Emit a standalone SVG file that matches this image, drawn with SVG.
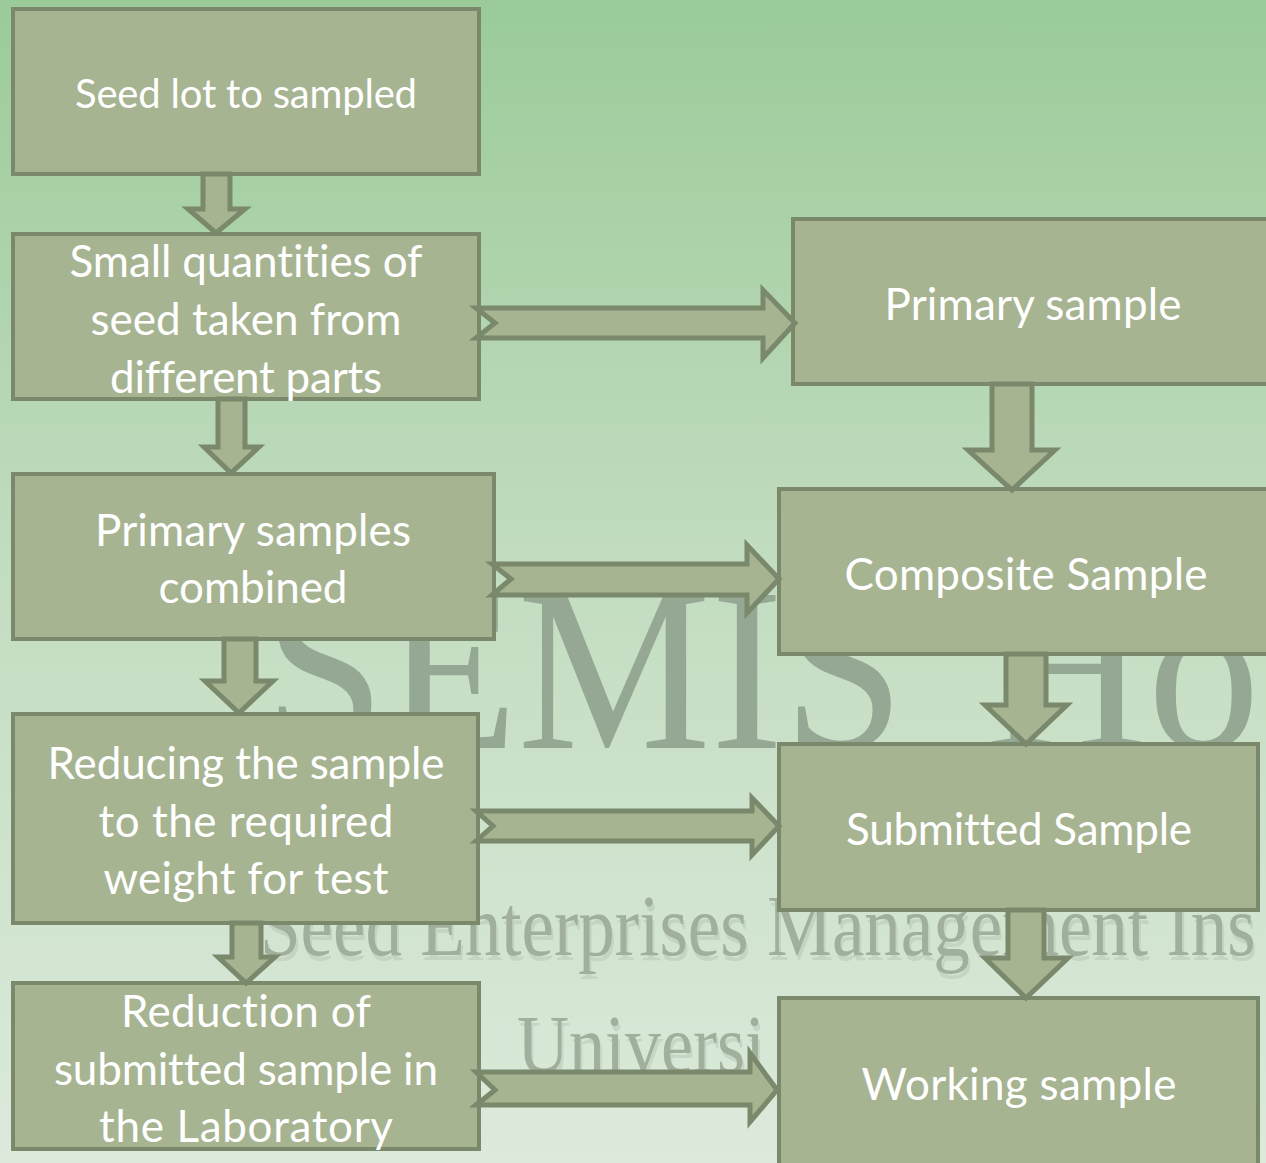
<svg xmlns="http://www.w3.org/2000/svg" width="1266" height="1163" viewBox="0 0 1266 1163">
<defs>
<linearGradient id="bg" x1="0" y1="0" x2="0" y2="1">
<stop offset="0" stop-color="#9bcb99"/>
<stop offset="0.5" stop-color="#c3ddc1"/>
<stop offset="1" stop-color="#dceadb"/>
</linearGradient>
</defs>
<style>
.box{fill:#a6b491;stroke:#7a886b;stroke-width:4}
.arr{fill:#a6b491;stroke:#7a886b;stroke-width:5;stroke-linejoin:miter}
.t{font-family:Lato,"Open Sans","DejaVu Sans",sans-serif;font-size:44px;fill:#ffffff;text-anchor:middle;font-variant-ligatures:none}
.wm{font-family:"Liberation Serif","DejaVu Serif",serif;fill:#95a893}
.wm2{font-family:"Liberation Serif","DejaVu Serif",serif;fill:#a0b09d}
.sh{font-family:"Liberation Serif","DejaVu Serif",serif;fill:#a9b9a6;opacity:0.35}
</style>
<rect width="1266" height="1163" fill="url(#bg)"/>
<g id="watermark">
<text class="wm" x="264" y="748" font-size="234" textLength="640" lengthAdjust="spacingAndGlyphs">SEMIS</text>
<text class="wm" x="985" y="748" font-size="234" textLength="275" lengthAdjust="spacingAndGlyphs">Ho</text>
<text class="sh" transform="translate(262,960) scale(0.88,1.04)" font-size="83">Seed Enterprises Management Ins</text>
<text class="wm2" transform="translate(260,955) scale(0.88,1.04)" font-size="83">Seed Enterprises Management Ins</text>
<text class="sh" transform="translate(519,1077) scale(0.9,1.04)" font-size="80">Universi</text>
<text class="wm2" transform="translate(517,1072) scale(0.9,1.04)" font-size="80">Universi</text>
</g>
<g id="n1"><rect class="box" x="13" y="9" width="466" height="165"/><text class="t" x="246" y="108" style="font-size:40px" textLength="342">Seed lot to sampled</text></g>
<g id="n2"><rect class="box" x="13" y="234" width="466" height="165"/><text class="t" x="246" y="277" textLength="353">Small quantities of</text><text class="t" x="246" y="335" textLength="311">seed taken from</text><text class="t" x="246" y="393" textLength="272">different parts</text></g>
<g id="n3"><rect class="box" x="13" y="474" width="481" height="165"/><text class="t" x="253" y="546" textLength="316">Primary samples</text><text class="t" x="253" y="603" textLength="189">combined</text></g>
<g id="n4"><rect class="box" x="13" y="714" width="465" height="209"/><text class="t" x="246" y="779" textLength="397">Reducing the sample</text><text class="t" x="246" y="837" textLength="295">to the required</text><text class="t" x="246" y="894" textLength="285">weight for test</text></g>
<g id="n5"><rect class="box" x="13" y="983" width="466" height="166"/><text class="t" x="246" y="1027" textLength="250">Reduction of</text><text class="t" x="246" y="1085" textLength="384">submitted sample in</text><text class="t" x="246" y="1142" textLength="294">the Laboratory</text></g>
<g id="n6"><rect class="box" x="793" y="219" width="480" height="165"/><text class="t" x="1033" y="320" textLength="297">Primary sample</text></g>
<g id="n7"><rect class="box" x="779" y="489" width="494" height="165"/><text class="t" x="1026" y="590" textLength="363">Composite Sample</text></g>
<g id="n8"><rect class="box" x="779" y="744" width="479" height="166"/><text class="t" x="1019" y="845" textLength="346">Submitted Sample</text></g>
<g id="n9"><rect class="box" x="779" y="998" width="479" height="175"/><text class="t" x="1019" y="1100" textLength="315">Working sample</text></g>
<g id="connectors">
<polygon class="arr" points="203,174 230,174 230,209 245,209 216,233 188,209 203,209"/>
<polygon class="arr" points="218,399 245,399 245,447 259,447 231,473 204,447 218,447"/>
<polygon class="arr" points="224,639 256,639 256,681 273,681 239,713 205,681 224,681"/>
<polygon class="arr" points="232,923 261,923 261,957 275,957 246,983 218,957 232,957"/>
<polygon class="arr" points="992,384 1032,384 1032,450 1055,450 1012,490 968,450 992,450"/>
<polygon class="arr" points="1006,654 1046,654 1046,705 1067,705 1026,744 985,705 1006,705"/>
<polygon class="arr" points="1008,910 1044,910 1044,958 1068,958 1026,998 985,958 1008,958"/>
<polygon class="arr" points="476,308 763,308 763,290 795,323 763,358 763,338 476,338 495,323"/>
<polygon class="arr" points="492,564 747,564 747,545 779,579 747,613 747,595 492,595 511,579"/>
<polygon class="arr" points="476,811 752,811 752,798 779,826 752,855 752,841 476,841 493,826"/>
<polygon class="arr" points="476,1072 750,1072 750,1053 777,1090 750,1122 750,1105 476,1105 495,1090"/>
</g>
</svg>
